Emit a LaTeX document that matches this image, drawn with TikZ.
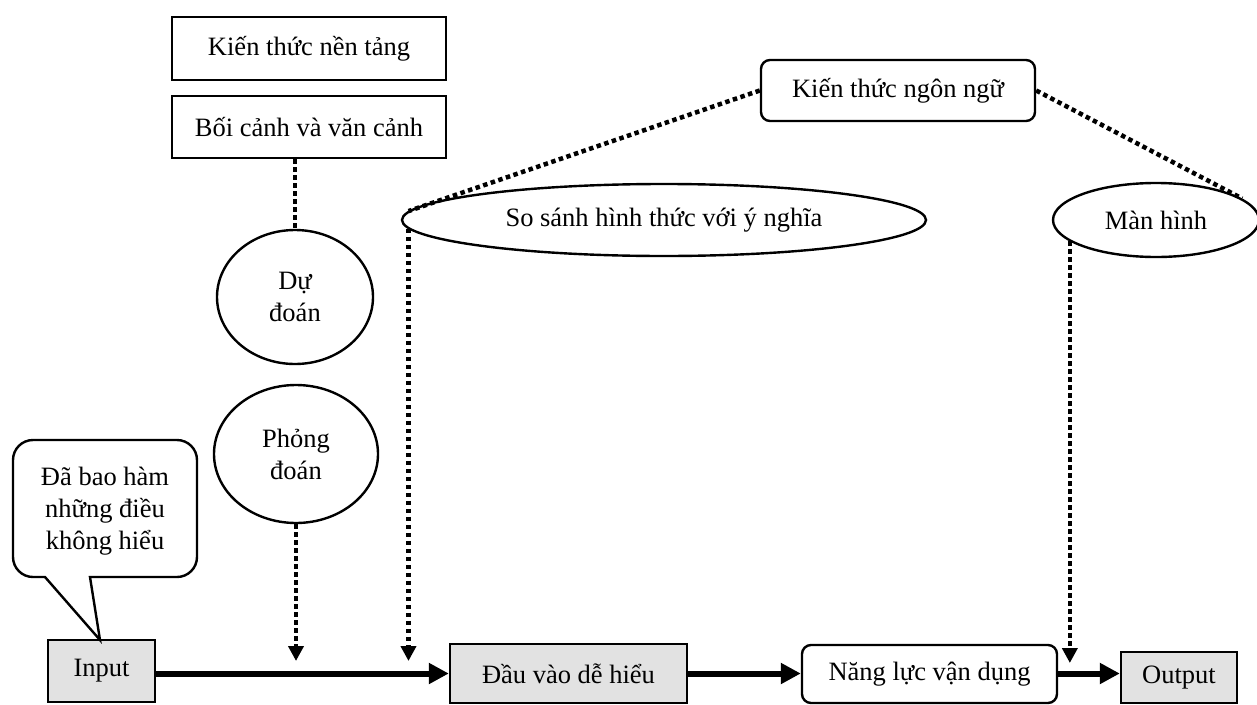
\documentclass[tikz,border=0pt]{standalone}
\usepackage{fontspec}
\setmainfont{Liberation Serif}
\usetikzlibrary{shapes.geometric,arrows.meta}
\definecolor{boxgrey}{HTML}{E2E2E2}
\begin{document}
\begin{tikzpicture}[x=1pt,y=-1pt,
  font=\fontsize{26.5}{32}\selectfont,
  box/.style={draw, line width=2.4pt, inner sep=0pt, align=center},
  roundbox/.style={box, rounded corners=9pt},
  greybox/.style={box, fill=boxgrey},
  oval/.style={draw, ellipse, line width=2.4pt, inner sep=0pt, align=center},
  flow/.style={line width=6pt, -{Triangle[length=20pt,width=20pt]}},
  hint/.style={line width=4.5pt, dash pattern=on 4.5pt off 3.5pt},
  hintarrow/.style={hint, -{Triangle[length=15pt,width=15pt]}}]
\useasboundingbox (0,0) rectangle (1257,704);

% left column: context and guessing
\node[box, minimum width=274pt, minimum height=63pt] (kn) at (309,48.5) {Kiến thức nền tảng};
\node[box, minimum width=274pt, minimum height=62pt] (bc) at (309,127) {Bối cảnh và văn cảnh};
\node[oval, minimum width=156pt, minimum height=134pt] (dd) at (295,297) {Dự\\đoán};
\node[oval, minimum width=164pt, minimum height=138pt] (pd) at (296,454) {Phỏng\\đoán};

% language knowledge and monitoring
\node[roundbox, minimum width=274pt, minimum height=61pt] (ktnn) at (898,90.5) {Kiến thức ngôn ngữ};
\node[oval, minimum width=524pt, minimum height=72pt] (ss) at (664,220) {So sánh hình thức với ý nghĩa};
\node[oval, minimum width=206pt, minimum height=74pt] (mh) at (1156,220) {Màn hình};

% main flow
\node[greybox, minimum width=107pt, minimum height=62pt] (in) at (101.5,671) {Input};
\node[greybox, minimum width=237pt, minimum height=59pt] (dv) at (568.5,673.5) {Đầu vào dễ hiểu};
\node[roundbox, minimum width=255pt, minimum height=58pt] (nl) at (929.5,674) {Năng lực vận dụng};
\node[greybox, minimum width=116pt, minimum height=51pt] (out) at (1179,677.5) {Output};

% speech bubble attached to the input
\draw[line width=2.4pt, line join=miter] (100,640) -- (45,577) -- (42,577)
  [rounded corners=20pt] -- (13,577) -- (13,440) -- (197,440) -- (197,577) -- (150,577)
  [sharp corners] -- (90,577) -- cycle;
\node[align=center] (bubble) at (105,511) {Đã bao hàm\\những điều\\không hiểu};

% dotted links
\coordinate (t1) at (296,661);
\coordinate (t2) at (411,661);
\coordinate (t3) at (1072,663);
\draw[hint] (dd.north |- bc.south) -- (dd.north);
\draw[hintarrow] (pd.south) -- (t1);
\draw[hintarrow] (ss.182) -- (ss.182 |- t2);
\draw[hintarrow] (mh.194) -- (mh.194 |- t3);
\draw[hint] (ktnn.west) -- (ss.178);
\draw[hint] (ktnn.east) -- (mh.14);

% solid flow arrows, all on one level
\draw[flow] (in.east |- dv.west) -- (dv.west);
\draw[flow] (dv.east) -- (dv.east -| nl.west);
\draw[flow] (nl.east |- dv.east) -- (out.west |- dv.east);
\end{tikzpicture}
\end{document}
